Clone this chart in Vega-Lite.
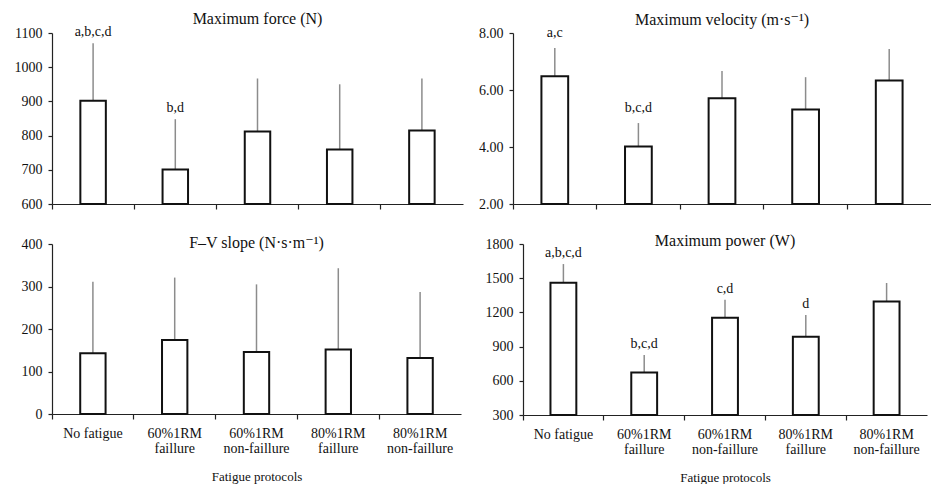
{
  "$schema": "https://vega.github.io/schema/vega-lite/v6.json",
  "padding": {"left": 5, "top": 11, "right": 0, "bottom": 0},
  "config": {
    "font": "'Liberation Serif', 'Times New Roman', 'DejaVu Serif', serif",
    "view": {"stroke": null},
    "axis": {"grid": false, "domainColor": "#222", "domainWidth": 1.2, "tickColor": "#222", "tickWidth": 1.2, "labelColor": "#111", "labelFontSize": 14, "titleFontSize": 14, "titleFontWeight": "normal", "titleColor": "#111", "labelFont": "'Liberation Serif', 'Times New Roman', 'DejaVu Serif', serif", "titleFont": "'Liberation Serif', 'Times New Roman', 'DejaVu Serif', serif"},
    "title": {"fontSize": 16, "fontWeight": "normal", "color": "#111", "anchor": "middle", "font": "'Liberation Serif', 'Times New Roman', 'DejaVu Serif', serif"},
    "text": {"font": "'Liberation Serif', 'Times New Roman', 'DejaVu Serif', serif"}
  },
  "datasets": {
    "force": [
      {"protocol": "No fatigue", "mean": 902, "upper": 1070, "sig": "a,b,c,d"},
      {"protocol": "60%1RM faillure", "mean": 701, "upper": 848, "sig": "b,d"},
      {"protocol": "60%1RM non-faillure", "mean": 812, "upper": 967, "sig": ""},
      {"protocol": "80%1RM faillure", "mean": 759, "upper": 950, "sig": ""},
      {"protocol": "80%1RM non-faillure", "mean": 815, "upper": 967, "sig": ""}
    ],
    "velocity": [
      {"protocol": "No fatigue", "mean": 6.48, "upper": 7.47, "sig": "a,c"},
      {"protocol": "60%1RM faillure", "mean": 4.02, "upper": 4.84, "sig": "b,c,d"},
      {"protocol": "60%1RM non-faillure", "mean": 5.71, "upper": 6.67, "sig": ""},
      {"protocol": "80%1RM faillure", "mean": 5.32, "upper": 6.45, "sig": ""},
      {"protocol": "80%1RM non-faillure", "mean": 6.33, "upper": 7.44, "sig": ""}
    ],
    "slope": [
      {"protocol": "No fatigue", "mean": 143, "upper": 311, "sig": ""},
      {"protocol": "60%1RM faillure", "mean": 174, "upper": 321, "sig": ""},
      {"protocol": "60%1RM non-faillure", "mean": 146, "upper": 305, "sig": ""},
      {"protocol": "80%1RM faillure", "mean": 152, "upper": 343, "sig": ""},
      {"protocol": "80%1RM non-faillure", "mean": 132, "upper": 287, "sig": ""}
    ],
    "power": [
      {"protocol": "No fatigue", "mean": 1460, "upper": 1624, "sig": "a,b,c,d"},
      {"protocol": "60%1RM faillure", "mean": 673, "upper": 826, "sig": "b,c,d"},
      {"protocol": "60%1RM non-faillure", "mean": 1153, "upper": 1311, "sig": "c,d"},
      {"protocol": "80%1RM faillure", "mean": 987, "upper": 1177, "sig": "d"},
      {"protocol": "80%1RM non-faillure", "mean": 1296, "upper": 1458, "sig": ""}
    ]
  },
  "spacing": 22,
  "vconcat": [
    {
      "spacing": 10,
      "hconcat": [
        {
          "width": 411, "height": 171,
          "title": {"text": "Maximum force (N)", "offset": -2},
          "data": {"name": "force"},
          "encoding": {
            "x": {"field": "protocol", "type": "nominal", "sort": ["No fatigue", "60%1RM faillure", "60%1RM non-faillure", "80%1RM faillure", "80%1RM non-faillure"], "scale": {"paddingInner": 0, "paddingOuter": 0}, "axis": {"labels": false, "title": null, "bandPosition": 0, "tickSize": 5}},
            "y": {"field": "mean", "type": "quantitative", "scale": {"domain": [600, 1100], "nice": false, "zero": false}, "axis": {"values": [600, 700, 800, 900, 1000, 1100], "format": "d", "title": null, "tickSize": 4, "labelPadding": 6, "minExtent": 47, "maxExtent": 47}}
          },
          "layer": [
            {"mark": {"type": "rule", "color": "#8c8c8c", "strokeWidth": 1.5}, "encoding": {"y2": {"field": "upper"}}},
            {"mark": {"type": "bar", "fill": "white", "stroke": "#111", "strokeWidth": 2, "width": {"band": 0.31}}, "encoding": {"y2": {"datum": 600}}},
            {"mark": {"type": "text", "dy": -7, "baseline": "alphabetic", "fontSize": 14, "color": "#111"}, "encoding": {"y": {"field": "upper", "type": "quantitative", "scale": {"domain": [600, 1100], "nice": false, "zero": false}, "axis": {"values": [600, 700, 800, 900, 1000, 1100], "format": "d", "title": null, "tickSize": 4, "labelPadding": 6, "minExtent": 47, "maxExtent": 47}}, "text": {"field": "sig"}}}
          ]
        },
        {
          "width": 418, "height": 171,
          "title": {"text": "Maximum velocity (m·s⁻¹)", "offset": -2},
          "data": {"name": "velocity"},
          "encoding": {
            "x": {"field": "protocol", "type": "nominal", "sort": ["No fatigue", "60%1RM faillure", "60%1RM non-faillure", "80%1RM faillure", "80%1RM non-faillure"], "scale": {"paddingInner": 0, "paddingOuter": 0}, "axis": {"labels": false, "title": null, "bandPosition": 0, "tickSize": 5}},
            "y": {"field": "mean", "type": "quantitative", "scale": {"domain": [2, 8], "nice": false, "zero": false}, "axis": {"values": [2, 4, 6, 8], "format": ".2f", "title": null, "tickSize": 4, "labelPadding": 6, "minExtent": 40, "maxExtent": 40}}
          },
          "layer": [
            {"mark": {"type": "rule", "color": "#8c8c8c", "strokeWidth": 1.5}, "encoding": {"y2": {"field": "upper"}}},
            {"mark": {"type": "bar", "fill": "white", "stroke": "#111", "strokeWidth": 2, "width": {"band": 0.32}}, "encoding": {"y2": {"datum": 2}}},
            {"mark": {"type": "text", "dy": -11, "baseline": "alphabetic", "fontSize": 14, "color": "#111"}, "encoding": {"y": {"field": "upper", "type": "quantitative", "scale": {"domain": [2, 8], "nice": false, "zero": false}, "axis": {"values": [2, 4, 6, 8], "format": ".2f", "title": null, "tickSize": 4, "labelPadding": 6, "minExtent": 40, "maxExtent": 40}}, "text": {"field": "sig"}}}
          ]
        }
      ]
    },
    {
      "spacing": 12,
      "hconcat": [
        {
          "width": 409, "height": 170,
          "title": {"text": "F–V slope (N·s·m⁻¹)", "offset": -14},
          "data": {"name": "slope"},
          "encoding": {
            "x": {"field": "protocol", "type": "nominal", "sort": ["No fatigue", "60%1RM faillure", "60%1RM non-faillure", "80%1RM faillure", "80%1RM non-faillure"], "scale": {"paddingInner": 0, "paddingOuter": 0}, "axis": {"title": "Fatigue protocols", "labelAngle": 0, "labelExpr": "datum.label == 'No fatigue' ? datum.label : split(datum.label, ' ')", "labelLineHeight": 15, "labelBaseline": "top", "labelPadding": 7, "bandPosition": 0, "tickSize": 5, "titlePadding": 15, "titleFontSize": 13}},
            "y": {"field": "mean", "type": "quantitative", "scale": {"domain": [0, 400], "nice": false, "zero": false}, "axis": {"values": [0, 100, 200, 300, 400], "format": "d", "title": null, "tickSize": 4, "labelPadding": 6, "minExtent": 47, "maxExtent": 47}}
          },
          "layer": [
            {"mark": {"type": "rule", "color": "#8c8c8c", "strokeWidth": 1.5}, "encoding": {"y2": {"field": "upper"}}},
            {"mark": {"type": "bar", "fill": "white", "stroke": "#111", "strokeWidth": 2, "width": {"band": 0.31}}, "encoding": {"y2": {"datum": 0}}}
          ]
        },
        {
          "width": 404, "height": 171,
          "title": {"text": "Maximum power (W)", "offset": -12},
          "data": {"name": "power"},
          "encoding": {
            "x": {"field": "protocol", "type": "nominal", "sort": ["No fatigue", "60%1RM faillure", "60%1RM non-faillure", "80%1RM faillure", "80%1RM non-faillure"], "scale": {"paddingInner": 0, "paddingOuter": 0}, "axis": {"title": "Fatigue protocols", "labelAngle": 0, "labelExpr": "datum.label == 'No fatigue' ? datum.label : split(datum.label, ' ')", "labelLineHeight": 15, "labelBaseline": "top", "labelPadding": 7, "bandPosition": 0, "tickSize": 5, "titlePadding": 15, "titleFontSize": 13}},
            "y": {"field": "mean", "type": "quantitative", "scale": {"domain": [300, 1800], "nice": false, "zero": false}, "axis": {"values": [300, 600, 900, 1200, 1500, 1800], "format": "d", "title": null, "tickSize": 4, "labelPadding": 6, "minExtent": 50, "maxExtent": 50}}
          },
          "layer": [
            {"mark": {"type": "rule", "color": "#8c8c8c", "strokeWidth": 1.5}, "encoding": {"y2": {"field": "upper"}}},
            {"mark": {"type": "bar", "fill": "white", "stroke": "#111", "strokeWidth": 2, "width": {"band": 0.32}}, "encoding": {"y2": {"datum": 300}}},
            {"mark": {"type": "text", "dy": -7, "baseline": "alphabetic", "fontSize": 14, "color": "#111"}, "encoding": {"y": {"field": "upper", "type": "quantitative", "scale": {"domain": [300, 1800], "nice": false, "zero": false}, "axis": {"values": [300, 600, 900, 1200, 1500, 1800], "format": "d", "title": null, "tickSize": 4, "labelPadding": 6, "minExtent": 50, "maxExtent": 50}}, "text": {"field": "sig"}}}
          ]
        }
      ]
    }
  ]
}
